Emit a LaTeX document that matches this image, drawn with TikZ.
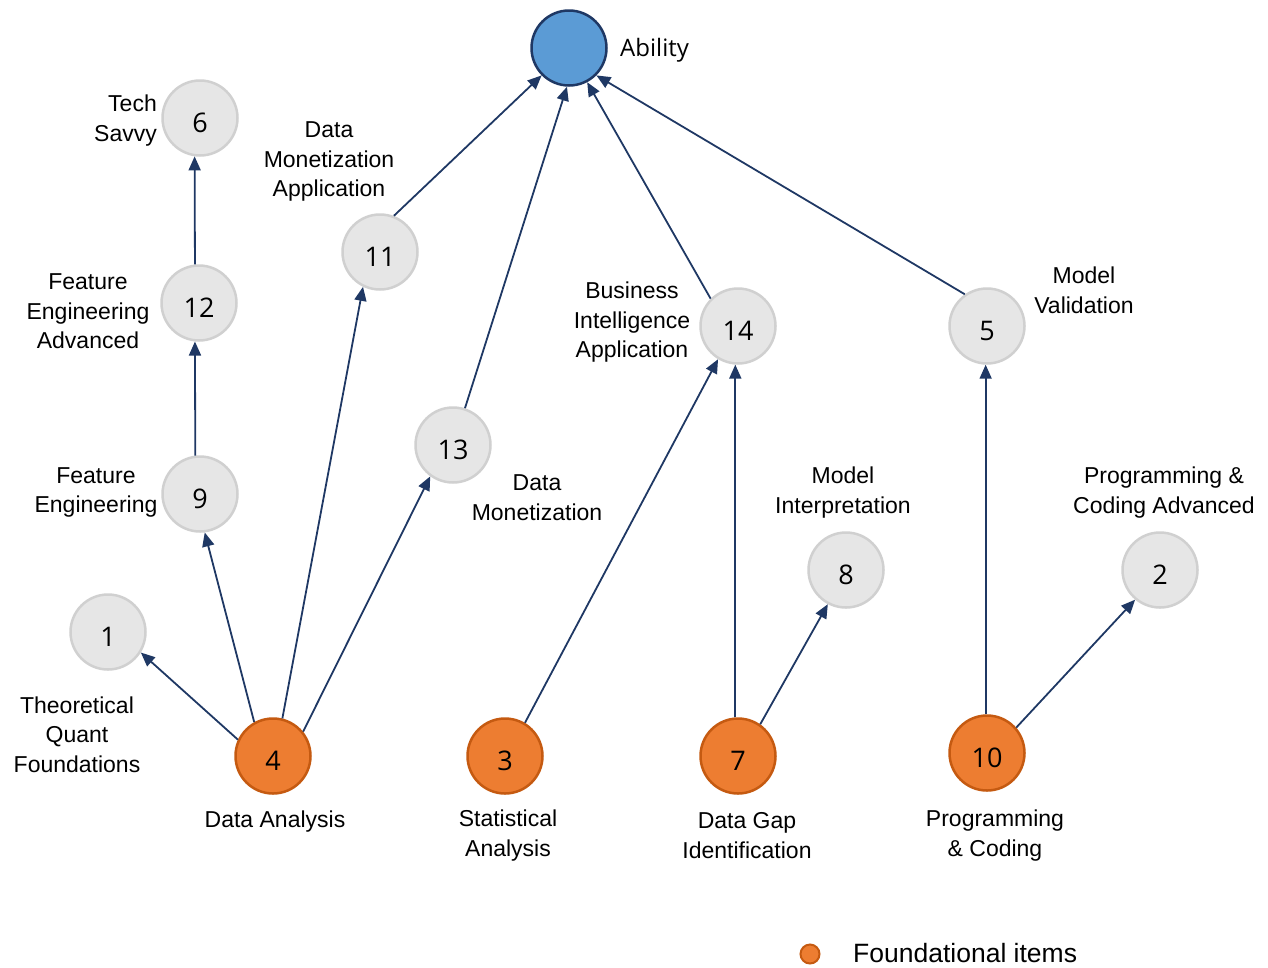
\documentclass[tikz,border=0pt]{standalone}
\usepackage{fontspec}
\setmainfont{Liberation Sans}
\newfontfamily\numfont{Open Sans}
\usetikzlibrary{arrows.meta}
\definecolor{navy}{RGB}{31,56,100}
\definecolor{grayfill}{RGB}{230,230,230}
\definecolor{grayline}{RGB}{208,208,208}
\definecolor{orfill}{RGB}{237,125,49}
\definecolor{orline}{RGB}{197,90,17}
\definecolor{bluefill}{RGB}{91,155,213}
\tikzset{
  item/.style={circle, minimum size=75pt, inner sep=0pt, line width=2.5pt,
    draw=grayline, fill=grayfill, text height=28pt, text depth=0pt,
    font=\numfont\fontsize{27}{30}\selectfont},
  found/.style={item, draw=orline, fill=orfill},
  top/.style={item, draw=navy, fill=bluefill},
  lbl/.style={align=center, font=\fontsize{23}{29.5}\selectfont, inner sep=0pt, yshift=-2.5pt},
  link/.style={draw=navy, line width=1.8pt, -{Triangle[length=14pt,width=12pt]}}
}
\begin{document}
\begin{tikzpicture}[x=1pt,y=-1pt]
\useasboundingbox (0,0) rectangle (1268,967);
% nodes
\node[top] (ab) at (569,48) {};
\node[item] (n6) at (200,118) {6};
\node[item] (n12) at (199,303) {12};
\node[item] (n9) at (200,494) {9};
\node[item] (n1) at (108,632) {1};
\node[item] (n11) at (380,252) {11};
\node[item] (n13) at (453,445) {13};
\node[item] (n14) at (738,326) {14};
\node[item] (n5) at (987,326) {5};
\node[item] (n8) at (846,570) {8};
\node[item] (n2) at (1160,570) {2};
\node[found] (n4) at (273,756) {4};
\node[found] (n3) at (505,756) {3};
\node[found] (n7) at (738,756) {7};
\node[found] (n10) at (987,753) {10};
% labels
\node[anchor=west, inner sep=0pt, font=\numfont\fontsize{24}{28}\selectfont] (lab) at (620,50) {Ability};
\node[lbl, anchor=east, align=right] (l6) at (157,118) {Tech\\Savvy};
\node[lbl] (l11) at (329,159) {Data\\Monetization\\Application};
\node[lbl] (l12) at (88,309) {Feature\\Engineering\\Advanced};
\node[lbl] (l14) at (632,320) {Business\\Intelligence\\Application};
\node[lbl] (l5) at (1084,288) {Model\\Validation};
\node[lbl] (l9) at (96,490) {Feature\\Engineering};
\node[lbl] (l13) at (537,495) {Data\\Monetization};
\node[lbl] (l8) at (843,490) {Model\\Interpretation};
\node[lbl] (l2) at (1164,490) {Programming \&\\Coding Advanced};
\node[lbl] (l1) at (77,732) {Theoretical\\Quant\\Foundations};
\node[lbl] (l4) at (275,819) {Data Analysis};
\node[lbl] (l3) at (508,833) {Statistical\\Analysis};
\node[lbl] (l7) at (747,833) {Data Gap\\Identification};
\node[lbl] (l10) at (995,833) {Programming\\\& Coding};
% legend
\node[circle, minimum size=19pt, inner sep=0pt, line width=2pt, draw=orline, fill=orfill] (leg) at (810,954) {};
\node[anchor=west, inner sep=0pt, font=\fontsize{26.5}{30}\selectfont] (legt) at (853,953) {Foundational items};
% connectors
\draw[link] (n9.97) -- (n12.264);
\draw[link] (n12.96) -- (n6.262);
\draw[link] (n4.155) -- (n1.328);
\draw[link] (n4.119) -- (n9.277);
\draw[link] (n4.76) -- (n11.244);
\draw[link] (n4.39) -- (n13.234);
\draw[link] (n11.69) -- (ab.225);
\draw[link] (n13.72) -- (ab.267);
\draw[link] (n14.135) -- (ab.298);
\draw[link] (n5.125) -- (ab.315);
\draw[link] (n3.59) -- (n14.239);
\draw[link] (n7.94) -- (n14.266);
\draw[link] (n7.55) -- (n8.242);
\draw[link] (n10.92) -- (n5.268);
\draw[link] (n10.41) -- (n2.230);
\end{tikzpicture}
\end{document}
